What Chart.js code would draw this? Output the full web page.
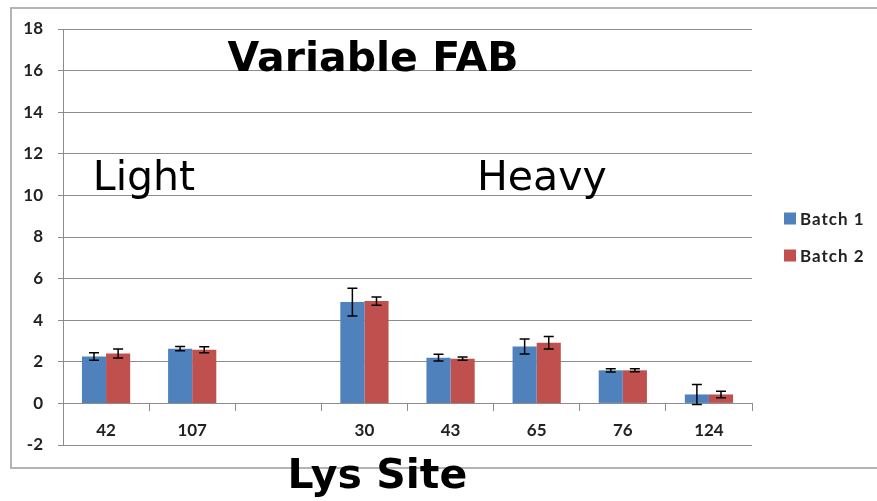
<!DOCTYPE html>
<html lang="en">
<head>
    <meta charset="UTF-8">
    <title>Variable FAB</title>
    <script src="https://cdn.jsdelivr.net/npm/chart.js"></script>
    <style>
        * {
            margin: 0;
            padding: 0;
            box-sizing: border-box;
        }
        body {
            background: #fff;
            width: 877px;
            height: 501px;
            overflow: hidden;
            position: relative;
        }
        /* outer frame of the chart object */
        .frame {
            position: absolute;
            left: 10px;
            top: 7px;
            width: 880px;
            height: 462px;
            border: 2px solid #b4b4b4;
            border-right: none;
        }
        .chart-box {
            position: absolute;
            left: 0;
            top: 0;
            width: 877px;
            height: 501px;
        }
    </style>
</head>
<body>
    <div class="frame"></div>
    <div class="chart-box">
        <canvas id="fabChart"></canvas>
    </div>

    <script>
        // data
        const sites = ['42', '107', '', '30', '43', '65', '76', '124'];
        const batch1 = [2.26, 2.63, null, 4.87, 2.20, 2.74, 1.59, 0.43];
        const batch2 = [2.40, 2.58, null, 4.92, 2.15, 2.92, 1.59, 0.43];
        const batch1Err = [0.18, 0.10, null, 0.67, 0.16, 0.36, 0.08, 0.48];
        const batch2Err = [0.22, 0.14, null, 0.20, 0.08, 0.30, 0.07, 0.16];
        const yTicks = [-2, 0, 2, 4, 6, 8, 10, 12, 14, 16, 18];

        const gridColor = '#8c8c8c';
        const tickFont = { family: 'Lato', size: 17, weight: 'bold' };

        // error bars, drawn on top of the bars
        const errorBars = {
            id: 'errorBars',
            afterDatasetsDraw(chart) {
                const ctx = chart.ctx;
                const y = chart.scales.y;
                const errs = [batch1Err, batch2Err];
                ctx.save();
                ctx.strokeStyle = '#000';
                ctx.lineWidth = 1.5;
                chart.data.datasets.forEach((ds, i) => {
                    chart.getDatasetMeta(i).data.forEach((bar, j) => {
                        const v = ds.data[j];
                        const e = errs[i][j];
                        if (v == null || e == null) return;
                        const top = y.getPixelForValue(v + e);
                        const bot = y.getPixelForValue(v - e);
                        ctx.beginPath();
                        ctx.moveTo(bar.x, top);
                        ctx.lineTo(bar.x, bot);
                        ctx.moveTo(bar.x - 5, top);
                        ctx.lineTo(bar.x + 5, top);
                        ctx.moveTo(bar.x - 5, bot);
                        ctx.lineTo(bar.x + 5, bot);
                        ctx.stroke();
                    });
                });
                ctx.restore();
            }
        };

        // free text in the plot + legend on the right
        const labelsPlugin = {
            id: 'labelsPlugin',
            afterDraw(chart) {
                const ctx = chart.ctx;
                const x = chart.scales.x;
                const y = chart.scales.y;
                const area = chart.chartArea;
                ctx.save();
                ctx.fillStyle = '#000';
                ctx.textAlign = 'center';
                ctx.textBaseline = 'alphabetic';

                ctx.font = 'bold 41px "DejaVu Sans"';
                ctx.fillText('Variable FAB', x.getPixelForValue(3.1), y.getPixelForValue(16));
                ctx.fillText('Lys Site', x.getPixelForValue(3.15), y.getPixelForValue(-4.09));

                ctx.font = '41px "DejaVu Sans"';
                ctx.fillText('Light', x.getPixelForValue(0.44), y.getPixelForValue(10.24));
                ctx.fillText('Heavy', x.getPixelForValue(5.06), y.getPixelForValue(10.24));

                // legend
                const mid = (area.top + area.bottom) / 2;
                ctx.font = 'bold 17px Lato';
                ctx.letterSpacing = '1px';
                ctx.textAlign = 'left';
                ctx.textBaseline = 'middle';
                chart.data.datasets.forEach((ds, i) => {
                    const cy = mid - 18.5 + i * 37;
                    ctx.fillStyle = ds.backgroundColor;
                    ctx.fillRect(area.right + 32, cy - 6, 12, 12);
                    ctx.fillStyle = '#222';
                    ctx.fillText(ds.label, area.right + 48, cy + 1);
                });
                ctx.restore();
            }
        };

        const ctx = document.getElementById('fabChart').getContext('2d');
        const fabChart = new Chart(ctx, {
            type: 'bar',
            data: {
                labels: sites,
                datasets: [{
                    label: 'Batch 1',
                    data: batch1,
                    backgroundColor: '#4f81bd'
                }, {
                    label: 'Batch 2',
                    data: batch2,
                    backgroundColor: '#c0504d'
                }]
            },
            options: {
                responsive: true,
                maintainAspectRatio: false,
                animation: false,
                layout: {
                    padding: { left: 10, top: 29, right: 125, bottom: 56 }
                },
                datasets: {
                    bar: {
                        categoryPercentage: 0.56,
                        barPercentage: 1.0
                    }
                },
                plugins: {
                    legend: { display: false },
                    tooltip: { enabled: false }
                },
                scales: {
                    x: {
                        position: { y: 0 },
                        grid: {
                            drawOnChartArea: false,
                            drawTicks: true,
                            tickLength: 7,
                            color: gridColor
                        },
                        border: { display: true, color: gridColor },
                        ticks: {
                            font: tickFont,
                            color: '#222',
                            padding: 10,
                            maxRotation: 0
                        }
                    },
                    y: {
                        min: -2,
                        max: 18,
                        afterFit(scale) {
                            scale.width = 53;
                        },
                        afterBuildTicks(scale) {
                            scale.ticks = yTicks.map(v => ({ value: v }));
                        },
                        grid: {
                            color: gridColor,
                            tickLength: 5
                        },
                        border: { display: true, color: gridColor },
                        ticks: {
                            font: tickFont,
                            color: '#222',
                            padding: 15
                        }
                    }
                }
            },
            plugins: [errorBars, labelsPlugin]
        });
    </script>
</body>
</html>
